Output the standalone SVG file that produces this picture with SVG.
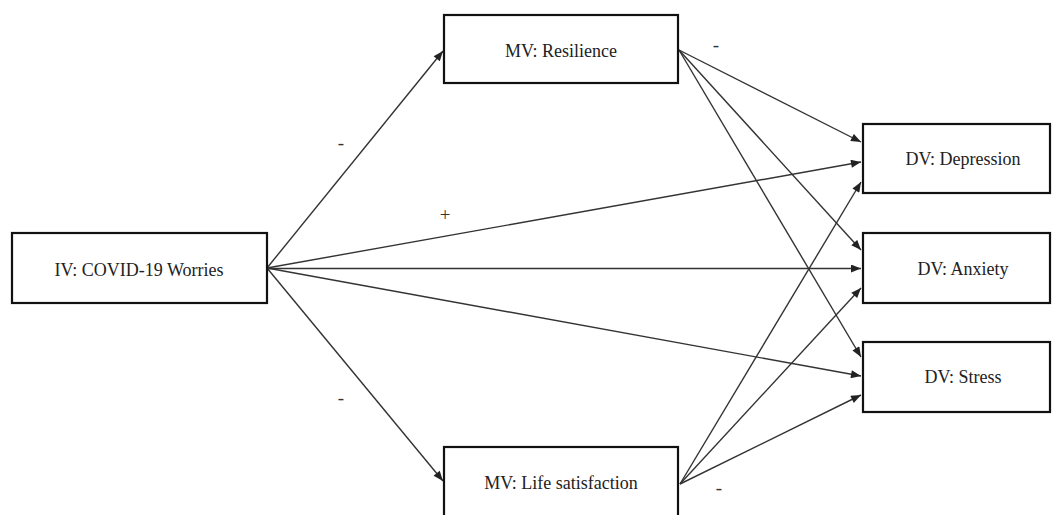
<svg xmlns="http://www.w3.org/2000/svg" width="1054" height="515" viewBox="0 0 1054 515">
<defs>
<style>
.box{fill:#fff;stroke:#111;stroke-width:2.2}
.lbl{font-family:"Liberation Serif","Times New Roman",serif;font-size:18px;fill:#222;text-anchor:middle}
.sign{font-family:"Liberation Serif","Times New Roman",serif;font-size:19px;fill:#333;text-anchor:middle}
.edge{stroke:#333;stroke-width:1.4;fill:none;marker-end:url(#arr)}
</style>
<marker id="arr" viewBox="0 0 10 8" refX="10" refY="4" markerWidth="11" markerHeight="8" markerUnits="userSpaceOnUse" orient="auto">
<path d="M0,0 L10,4 L0,8 z" fill="#222"/>
</marker>
</defs>
<rect width="1054" height="515" fill="#fff"/>
<g id="connectors">
<line class="edge" x1="267" y1="268" x2="443" y2="51"/>
<line class="edge" x1="267" y1="268" x2="443" y2="481"/>
<line class="edge" x1="267" y1="268" x2="861" y2="162"/>
<line class="edge" x1="267" y1="268.5" x2="861" y2="268.5"/>
<line class="edge" x1="267" y1="268" x2="861" y2="376"/>
<line class="edge" x1="679" y1="50" x2="861" y2="142"/>
<line class="edge" x1="679" y1="50" x2="861" y2="250"/>
<line class="edge" x1="679" y1="50" x2="861" y2="357"/>
<line class="edge" x1="680" y1="484" x2="861" y2="182"/>
<line class="edge" x1="680" y1="484" x2="861" y2="288"/>
<line class="edge" x1="680" y1="484" x2="861" y2="395"/>
</g>
<g id="iv">
<rect class="box" x="12" y="233" width="255" height="70"/>
<text class="lbl" x="139" y="276">IV: COVID-19 Worries</text>
</g>
<g id="mv-resilience">
<rect class="box" x="444" y="15" width="234" height="68"/>
<text class="lbl" x="561" y="57">MV: Resilience</text>
</g>
<g id="mv-life">
<rect class="box" x="444" y="447" width="234" height="72"/>
<text class="lbl" x="561" y="489">MV: Life satisfaction</text>
</g>
<g id="dv-depression">
<rect class="box" x="863" y="124" width="187" height="69"/>
<text class="lbl" x="963" y="165">DV: Depression</text>
</g>
<g id="dv-anxiety">
<rect class="box" x="863" y="233" width="187" height="70"/>
<text class="lbl" x="963" y="275">DV: Anxiety</text>
</g>
<g id="dv-stress">
<rect class="box" x="863" y="342" width="187" height="70"/>
<text class="lbl" x="963" y="383">DV: Stress</text>
</g>
<g id="signs">
<text class="sign" x="341" y="149">-</text>
<text class="sign" x="445" y="221">+</text>
<text class="sign" x="341" y="404">-</text>
<text class="sign" x="716" y="51">-</text>
<text class="sign" x="719" y="494">-</text>
</g>
</svg>
